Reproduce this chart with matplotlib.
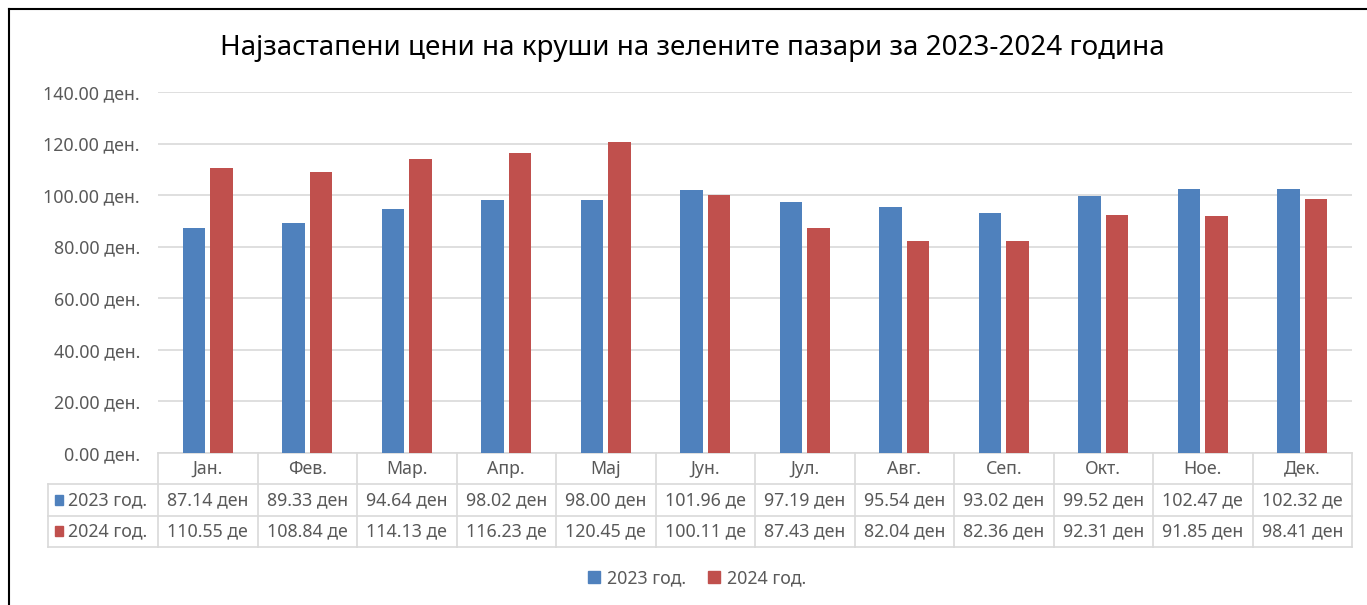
import matplotlib
matplotlib.use("Agg")
import matplotlib.pyplot as plt
from matplotlib.patches import Rectangle
from matplotlib.lines import Line2D
import numpy as np

plt.rcParams['font.family'] = ['Noto Sans', 'DejaVu Sans']

title = "Најзастапени цени на круши на зелените пазари за 2023-2024 година"
months = ["Јан.", "Фев.", "Мар.", "Апр.", "Мај", "Јун.", "Јул.", "Авг.", "Сеп.", "Окт.", "Ное.", "Дек."]
series_names = ["2023 год.", "2024 год."]
vals_2023 = [87.14, 89.33, 94.64, 98.02, 98.00, 101.96, 97.19, 95.54, 93.02, 99.52, 102.47, 102.32]
vals_2024 = [110.55, 108.84, 114.13, 116.23, 120.45, 100.11, 87.43, 82.04, 82.36, 92.31, 91.85, 98.41]
labels_2023 = ["87.14 ден", "89.33 ден", "94.64 ден", "98.02 ден", "98.00 ден", "101.96 де",
               "97.19 ден", "95.54 ден", "93.02 ден", "99.52 ден", "102.47 де", "102.32 де"]
labels_2024 = ["110.55 де", "108.84 де", "114.13 де", "116.23 де", "120.45 де", "100.11 де",
               "87.43 ден", "82.04 ден", "82.36 ден", "92.31 ден", "91.85 ден", "98.41 ден"]
yticks = [0, 20, 40, 60, 80, 100, 120, 140]

c_blue = "#4F81BD"
c_red = "#C0504D"
grid_c = "#D9D9D9"
txt_c = "#595959"

W, H = 1367, 605
fig = plt.figure(figsize=(W / 100, H / 100), dpi=100)

# outer border (top and left)
fig.add_artist(Line2D([9 / W, 9 / W], [0, 1 - 9 / H], color="black", lw=1.5, transform=fig.transFigure))
fig.add_artist(Line2D([9 / W, 1], [1 - 9 / H, 1 - 9 / H], color="black", lw=1.5, transform=fig.transFigure))

ax_l, ax_r, ax_t, ax_b = 158, 1352, 92, 453
ax = fig.add_axes([ax_l / W, 1 - ax_b / H, (ax_r - ax_l) / W, (ax_b - ax_t) / H])

x = np.arange(len(months)) + 0.5
bw = 0.222
off = 0.138
ax.bar(x - off, vals_2023, bw, color=c_blue, zorder=3)
ax.bar(x + off, vals_2024, bw, color=c_red, zorder=3)

fs = 12.8
ax.set_xlim(0, len(months))
ax.set_ylim(0, 140)
ax.set_yticks(yticks)
ax.set_yticklabels([f"{v:.2f} ден." for v in yticks], color=txt_c, fontsize=fs)
ax.tick_params(axis="y", length=0, pad=13)
ax.tick_params(axis="x", length=0, labelbottom=False)
ax.grid(axis="y", color=grid_c, lw=1.2, zorder=0)
for s in ax.spines.values():
    s.set_visible(False)

fig.text(692 / W, 1 - 48 / H, title, ha="center", va="center", fontsize=20, color="black")

# data table under the axes
tr = ax.get_xaxis_transform()
ah = ax_b - ax_t
row_px = 31.3
rows_y = [0, -row_px / ah, -2 * row_px / ah, -3 * row_px / ah]
left_x = (48 - ax_l) / ((ax_r - ax_l) / len(months))
n = len(months)

def hline(x0, x1, y):
    ax.add_line(Line2D([x0, x1], [y, y], color=grid_c, lw=1.2, transform=tr, clip_on=False))

def vline(xx, y0, y1):
    ax.add_line(Line2D([xx, xx], [y0, y1], color=grid_c, lw=1.2, transform=tr, clip_on=False))

hline(0, n, rows_y[0])
for y in rows_y[1:]:
    hline(left_x, n, y)
for i in range(n + 1):
    vline(i, rows_y[0], rows_y[3])
vline(left_x, rows_y[1], rows_y[3])

for i, m in enumerate(months):
    ax.text(i + 0.5, (rows_y[0] + rows_y[1]) / 2, m, transform=tr, ha="center", va="center",
            color=txt_c, fontsize=fs)
    ax.text(i + 0.5, (rows_y[1] + rows_y[2]) / 2, labels_2023[i], transform=tr, ha="center",
            va="center", color=txt_c, fontsize=fs)
    ax.text(i + 0.5, (rows_y[2] + rows_y[3]) / 2, labels_2024[i], transform=tr, ha="center",
            va="center", color=txt_c, fontsize=fs)

sq_w = 0.085
for k, (name, col) in enumerate(zip(series_names, [c_blue, c_red])):
    yc = (rows_y[k + 1] + rows_y[k + 2]) / 2
    sq_h = 10 / ah
    ax.add_patch(Rectangle((left_x + 0.07, yc - sq_h / 2), sq_w, sq_h, color=col,
                           transform=tr, clip_on=False))
    ax.text(left_x + 0.07 + sq_w + 0.045, yc, name, transform=tr, ha="left", va="center",
            color=txt_c, fontsize=fs)

# legend at the bottom
handles = [Rectangle((0, 0), 1, 1, color=c_blue), Rectangle((0, 0), 1, 1, color=c_red)]
fig.legend(handles, series_names, loc="center", bbox_to_anchor=(697 / W, 1 - 578 / H), ncol=2,
           frameon=False, fontsize=fs, labelcolor=txt_c, handlelength=0.7, handleheight=0.7,
           handletextpad=0.4, columnspacing=1.2)

fig.savefig("out.png", dpi=100, facecolor="white")
